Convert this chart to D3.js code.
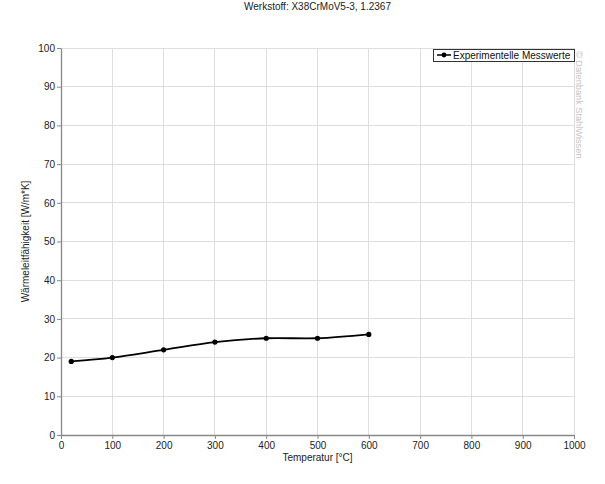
<!DOCTYPE html>
<html><head><meta charset="utf-8">
<script src="https://cdn.jsdelivr.net/npm/d3@7"></script>
<style>body{margin:0;background:#fff}svg{display:block;font-family:"Liberation Sans",Arial,sans-serif}</style>
</head><body>
<svg id="c" width="605" height="484"></svg>
<script>
const title = "Werkstoff: X38CrMoV5-3, 1.2367";
const xLabel = "Temperatur [°C]";
const yLabel = "Wärmeleitfähigkeit [W/m*K]";
const seriesName = "Experimentelle Messwerte";
const watermark = "© Datenbank StahlWissen";
const temps = [20, 100, 200, 300, 400, 500, 600];
const values = [19, 20, 22, 24, 25, 25, 26];
const xTicks = [0,100,200,300,400,500,600,700,800,900,1000];
const yTicks = [0,10,20,30,40,50,60,70,80,90,100];

const svg = d3.select("#c");
const m = {l:61, r:574, t:48, b:435};
const x = d3.scaleLinear().domain([0,1000]).range([m.l, m.r]);
const y = d3.scaleLinear().domain([0,100]).range([m.b, m.t]);
const FS = "10px";

// grid
svg.append("g").selectAll("line").data(xTicks.slice(1)).join("line")
  .attr("x1", d=>x(d)).attr("x2", d=>x(d)).attr("y1", m.t).attr("y2", m.b)
  .attr("stroke", "#dedede").attr("stroke-width", 1).attr("shape-rendering","crispEdges");
svg.append("g").selectAll("line").data(yTicks.slice(1)).join("line")
  .attr("x1", m.l).attr("x2", m.r).attr("y1", d=>y(d)).attr("y2", d=>y(d))
  .attr("stroke", "#dedede").attr("stroke-width", 1).attr("shape-rendering","crispEdges");

// axes
const xa = svg.append("g").attr("transform", `translate(0,${m.b})`)
  .call(d3.axisBottom(x).tickValues(xTicks).tickSize(4).tickSizeOuter(0).tickFormat(d3.format("d")));
const ya = svg.append("g").attr("transform", `translate(${m.l},0)`)
  .call(d3.axisLeft(y).tickValues(yTicks).tickSize(4).tickSizeOuter(0).tickFormat(d3.format("d")));
[xa, ya].forEach(a => {
  a.select(".domain").attr("stroke", "#888").attr("stroke-width", 1.3);
  a.selectAll(".tick line").attr("stroke", "#888");
  a.selectAll(".tick text").attr("fill", "#222").style("font-size", FS)
   .style("font-family", '"Liberation Sans",Arial,sans-serif');
});
xa.selectAll(".tick text").attr("y", 5).attr("dy", "0.9em");
ya.selectAll(".tick text").attr("x", -6);

// line
const pts = temps.map((t,i)=>[t, values[i]]);
svg.append("path").datum(pts)
  .attr("d", d3.line().x(d=>x(d[0])).y(d=>y(d[1])).curve(d3.curveCatmullRom.alpha(0.5)))
  .attr("fill","none").attr("stroke","#000").attr("stroke-width",1.8);
svg.append("g").selectAll("circle").data(pts).join("circle")
  .attr("cx", d=>x(d[0])).attr("cy", d=>y(d[1])).attr("r", 2.6).attr("fill","#000");

// title & labels
svg.append("text").attr("x", (m.l+m.r)/2).attr("y", 10).attr("text-anchor","middle")
  .style("font-size",FS).attr("fill","#222").text(title);
svg.append("text").attr("x", (m.l+m.r)/2).attr("y", 461).attr("text-anchor","middle")
  .style("font-size",FS).attr("fill","#222").text(xLabel);
svg.append("text").attr("transform", `translate(29,${(m.t+m.b)/2}) rotate(-90)`).attr("text-anchor","middle")
  .style("font-size",FS).attr("fill","#222").text(yLabel);

// legend
const lg = svg.append("g");
const lx = 433, ly = 49, lw = 141, lh = 12;
lg.append("rect").attr("x", lx).attr("y", ly).attr("width", lw).attr("height", lh)
  .attr("fill","#fff").attr("stroke","#333").attr("stroke-width",1).attr("shape-rendering","crispEdges");
lg.append("line").attr("x1", lx+4).attr("x2", lx+18).attr("y1", ly+lh/2).attr("y2", ly+lh/2)
  .attr("stroke","#000").attr("stroke-width",1.5);
lg.append("circle").attr("cx", lx+11).attr("cy", ly+lh/2).attr("r", 2.4).attr("fill","#000");
lg.append("text").attr("x", lx+20).attr("y", ly+9.8).style("font-size",FS).attr("fill","#111").text(seriesName);

// watermark
svg.append("text").attr("transform", "translate(576,51) rotate(90)")
  .style("font-size","9.2px").attr("fill","#c4c4c4").text(watermark);
</script>
</body></html>
